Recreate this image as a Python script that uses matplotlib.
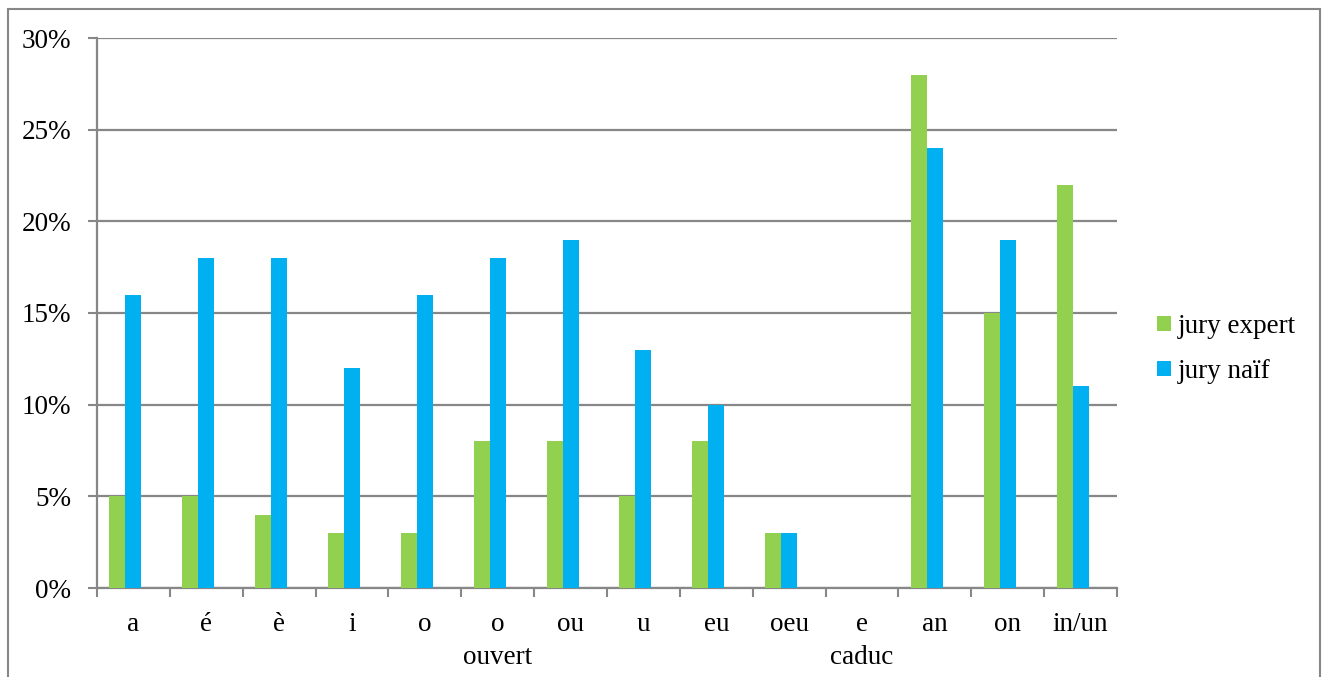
import numpy as np
import matplotlib.pyplot as plt
from matplotlib.patches import Rectangle

categories = ['a', 'é', 'è', 'i', 'o', 'o\nouvert', 'ou', 'u', 'eu', 'oeu',
              'e\ncaduc', 'an', 'on', 'in/un']
jury_expert = [5, 5, 4, 3, 3, 8, 8, 5, 8, 3, 0, 28, 15, 22]
jury_naif = [16, 18, 18, 12, 16, 18, 19, 13, 10, 3, 0, 24, 19, 11]

plt.rcParams['font.family'] = ['Liberation Serif', 'DejaVu Serif']
grey = '#878787'
fs = 19.5

fig = plt.figure(figsize=(13.27, 6.77), dpi=100)
ax = fig.add_axes([97 / 1327, 89 / 677, 1020 / 1327, 550 / 677])

x = np.arange(len(categories))
w = 0.22
ax.bar(x - w, jury_expert, width=w, color='#92D050', label='jury expert', zorder=3)
ax.bar(x, jury_naif, width=w, color='#00B0F0', label='jury naïf', zorder=3)

ax.set_xlim(-0.5, len(categories) - 0.5)
ax.set_ylim(0, 30)
ax.set_yticks(range(0, 31, 5))
ax.set_yticklabels([f'{v}%' for v in range(0, 31, 5)], fontsize=fs)
ax.yaxis.grid(True, color=grey, linewidth=1.6, zorder=0)

# category boundaries as ticks, labels centred between them
ax.set_xticks(np.arange(-0.5, len(categories), 1))
ax.set_xticklabels([])
ax.set_xticks(x, minor=True)
ax.set_xticklabels(categories, minor=True, fontsize=fs, linespacing=1.42)
ax.tick_params(axis='x', which='minor', length=0, pad=17)
ax.tick_params(axis='x', which='major', length=6.5, width=1.5, color=grey, direction='out')
ax.tick_params(axis='y', length=6.5, width=1.5, color=grey, pad=12)

for s in ['top', 'right']:
    ax.spines[s].set_visible(False)
for s in ['left', 'bottom']:
    ax.spines[s].set_color(grey)
    ax.spines[s].set_linewidth(1.6)

fig.legend(loc='center left', bbox_to_anchor=(1133 / 1327, 1 - 349 / 677),
           frameon=False, fontsize=fs, handlelength=0.5, handleheight=0.5,
           handletextpad=0.25, labelspacing=0.75)

fig.patches.append(Rectangle((8 / 1327, -0.1), (1320 - 8) / 1327, 1.1 - 9 / 677,
                             transform=fig.transFigure, fill=False,
                             edgecolor=grey, linewidth=1.5))

fig.savefig('out.png', dpi=100)
